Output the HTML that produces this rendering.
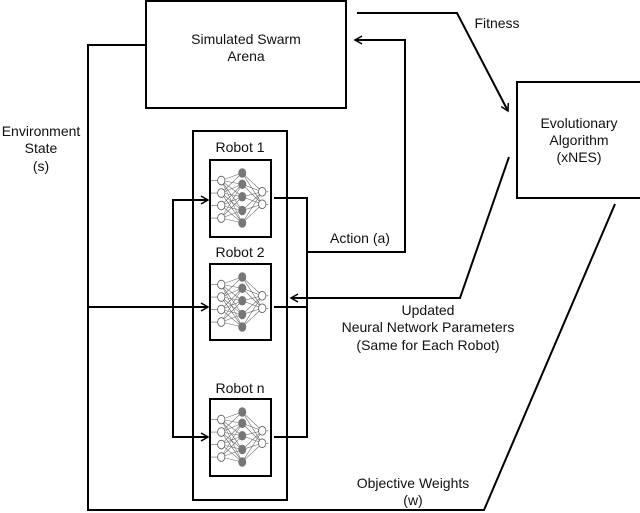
<!DOCTYPE html>
<html><head><style>
body{margin:0;background:#fff}
svg{display:block}
text{font-family:"Liberation Sans",sans-serif;font-size:14px;fill:#111;text-anchor:middle}
</style></head><body>
<svg width="640" height="513" viewBox="0 0 640 513">
<defs>
<marker id="a" markerWidth="10" markerHeight="10" refX="8" refY="5" orient="auto" markerUnits="userSpaceOnUse">
<path d="M1,1 L8,5 L1,9" fill="none" stroke="#000" stroke-width="1.5"/></marker>
<g id="nn">
<g stroke="#666" stroke-width="0.5">
<path d="M5,10 L25,4 M5,10 L25,13 M5,10 L25,23 M5,10 L25,34 M5,20 L25,13 M5,20 L25,23 M5,20 L25,34 M5,20 L25,44 M5,30 L25,23 M5,30 L25,34 M5,30 L25,44 M5,20 L25,4 M5,30 L25,13 M5,10 L25,44 M5,40 L25,34 M5,40 L25,44 M5,40 L25,23 M5,40 L25,13
M25,4 L44,19 M25,13 L44,19 M25,23 L44,19 M25,34 L44,19 M25,44 L44,19 M25,4 L44,29 M25,13 L44,29 M25,23 L44,29 M25,34 L44,29 M25,44 L44,29
M-5,10 L5,10 M-5,20 L5,20 M-5,30 L5,30 M-5,40 L5,40 M44,19 L50,19 M44,29 L50,29"/></g>
<g fill="#fff" stroke="#555" stroke-width="0.7"><circle cx="5" cy="10" r="3.5"/><circle cx="5" cy="20" r="3.5"/><circle cx="5" cy="30" r="3.5"/><circle cx="5" cy="40" r="3.5"/><circle cx="44" cy="19" r="3.5"/><circle cx="44" cy="29" r="3.5"/></g>
<g fill="#777"><circle cx="25" cy="4" r="3.8"/><circle cx="25" cy="13" r="3.8"/><circle cx="25" cy="23" r="3.8"/><circle cx="25" cy="34" r="3.8"/><circle cx="25" cy="44" r="3.8"/></g>
</g>
</defs>
<g fill="none" stroke="#000" stroke-width="2">
<rect x="146" y="1" width="200" height="107"/>
<rect x="517" y="82" width="125" height="116"/>
<rect x="193" y="131" width="94" height="369"/>
<rect x="210" y="160" width="61" height="77"/>
<rect x="210" y="264" width="61" height="76"/>
<rect x="210" y="399" width="61" height="77"/>
<polyline points="146,45 88,45 88,510 484,510 615,204"/>
<line x1="88" y1="307" x2="208" y2="307" marker-end="url(#a)"/>
<polyline points="208,200 173,200 173,437 208,437" marker-end="url(#a)"/>
<line x1="173" y1="200" x2="208" y2="200" marker-end="url(#a)"/>
<polyline points="274,198 307,198 307,437 274,437"/>
<line x1="274" y1="307" x2="307" y2="307"/>
<polyline points="307,252 405,252 405,40 355,40" marker-end="url(#a)"/>
<polyline points="357,13 457,13 508,111" marker-end="url(#a)"/>
<polyline points="509,157 460,298 291,298" marker-end="url(#a)"/>
</g>
<g transform="translate(216,168) scale(1.05,1.25)"><use href="#nn"/></g>
<g transform="translate(216,272) scale(1.05,1.25)"><use href="#nn"/></g>
<g transform="translate(216,407) scale(1.05,1.25)"><use href="#nn"/></g>
<text x="246" y="44">Simulated Swarm</text>
<text x="246" y="61">Arena</text>
<text x="579" y="128">Evolutionary</text>
<text x="579" y="145">Algorithm</text>
<text x="579" y="162">(xNES)</text>
<text x="240" y="152">Robot 1</text>
<text x="240" y="257">Robot 2</text>
<text x="240" y="393">Robot n</text>
<text x="41" y="136">Environment</text>
<text x="41" y="153">State</text>
<text x="41" y="171">(s)</text>
<text x="497" y="28">Fitness</text>
<text x="360" y="243">Action (a)</text>
<text x="428" y="315">Updated</text>
<text x="428" y="332">Neural Network Parameters</text>
<text x="428" y="350">(Same for Each Robot)</text>
<text x="413" y="488">Objective Weights</text>
<text x="413" y="505">(w)</text>
</svg>
</body></html>
